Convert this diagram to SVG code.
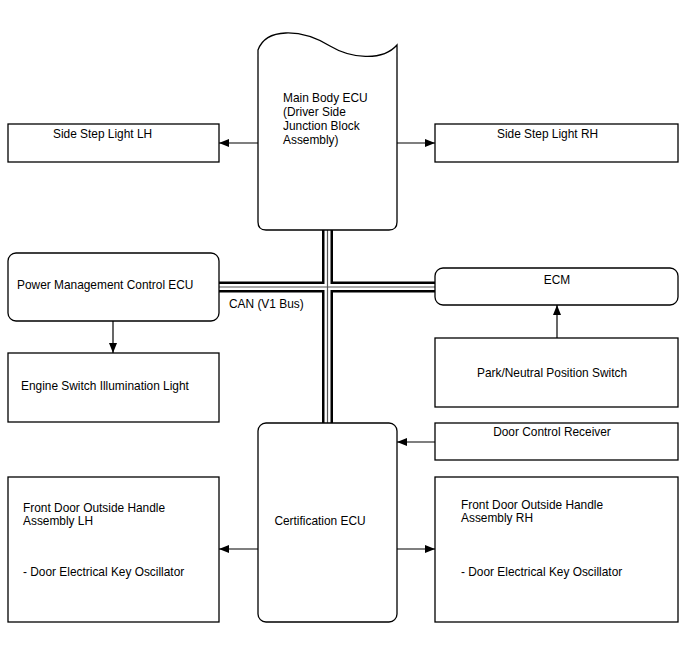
<svg xmlns="http://www.w3.org/2000/svg" width="688" height="658" viewBox="0 0 688 658">
<defs>
<style>
.box{fill:#fff;stroke:#000;stroke-width:1.3}
.t{font-family:"Liberation Sans",Arial,sans-serif;font-size:11.9px;fill:#000}
.ln{stroke:#000;stroke-width:1.2;fill:none}
.busO{stroke:#000;stroke-width:11;fill:none}
.busW{stroke:#fff;stroke-width:6;fill:none}
.busM{stroke:#555;stroke-width:1.2;fill:none}
</style>
<marker id="ah" viewBox="0 0 10 8" refX="10" refY="4" markerWidth="10" markerHeight="8" markerUnits="userSpaceOnUse" orient="auto">
<path d="M0,0 L10,4 L0,8 Z" fill="#000"/>
</marker>
</defs>
<rect width="688" height="658" fill="#fff"/>
<g id="connectors">
<path class="busO" d="M327.5,230 V423 M219,287 H435"/>
<path class="busW" d="M327.5,229 V424 M218,287 H436"/>
<path class="busM" d="M327.5,229 V424 M218,287 H436"/>
<line class="ln" x1="258" y1="143" x2="219" y2="143" marker-end="url(#ah)"/>
<line class="ln" x1="397" y1="143" x2="435" y2="143" marker-end="url(#ah)"/>
<line class="ln" x1="113" y1="321" x2="113" y2="353" marker-end="url(#ah)"/>
<line class="ln" x1="557" y1="338" x2="557" y2="305" marker-end="url(#ah)"/>
<line class="ln" x1="435" y1="442" x2="397" y2="442" marker-end="url(#ah)"/>
<line class="ln" x1="258" y1="549" x2="219" y2="549" marker-end="url(#ah)"/>
<line class="ln" x1="397" y1="549" x2="435" y2="549" marker-end="url(#ah)"/>
<text class="t" x="229" y="308">CAN (V1 Bus)</text>
</g>
<g id="main-body-ecu">
<path class="box" d="M258,50 C266,28 300,28 330,46 C350,58 382,62 397,45 L397,222 Q397,230 389,230 L266,230 Q258,230 258,222 Z"/>
<text class="t" x="283" y="102">Main Body ECU</text>
<text class="t" x="283" y="116">(Driver Side</text>
<text class="t" x="283" y="130">Junction Block</text>
<text class="t" x="283" y="144">Assembly)</text>
</g>
<g id="side-step-lh">
<rect class="box" x="8" y="124" width="211" height="38"/>
<text class="t" x="53" y="138">Side Step Light LH</text>
</g>
<g id="side-step-rh">
<rect class="box" x="435" y="124" width="243" height="38"/>
<text class="t" x="497" y="138">Side Step Light RH</text>
</g>
<g id="power-mgmt-ecu">
<rect class="box" x="8" y="253" width="211" height="68" rx="8"/>
<text class="t" x="17" y="289">Power Management Control ECU</text>
</g>
<g id="engine-switch-light">
<rect class="box" x="8" y="353" width="211" height="69"/>
<text class="t" x="21" y="390">Engine Switch Illumination Light</text>
</g>
<g id="ecm">
<rect class="box" x="435" y="268" width="243" height="37" rx="8"/>
<text class="t" x="557" y="284" text-anchor="middle">ECM</text>
</g>
<g id="park-neutral-switch">
<rect class="box" x="435" y="338" width="243" height="69"/>
<text class="t" x="552" y="377" text-anchor="middle">Park/Neutral Position Switch</text>
</g>
<g id="door-control-receiver">
<rect class="box" x="435" y="423" width="243" height="37"/>
<text class="t" x="552" y="436" text-anchor="middle">Door Control Receiver</text>
</g>
<g id="certification-ecu">
<rect class="box" x="258" y="423" width="139" height="199" rx="8"/>
<text class="t" x="320" y="525" text-anchor="middle">Certification ECU</text>
</g>
<g id="front-door-lh">
<rect class="box" x="8" y="477" width="211" height="145"/>
<text class="t" x="23" y="512">Front Door Outside Handle</text>
<text class="t" x="23" y="525">Assembly LH</text>
<text class="t" x="23" y="576">- Door Electrical Key Oscillator</text>
</g>
<g id="front-door-rh">
<rect class="box" x="435" y="477" width="243" height="145"/>
<text class="t" x="461" y="509">Front Door Outside Handle</text>
<text class="t" x="461" y="522">Assembly RH</text>
<text class="t" x="461" y="576">- Door Electrical Key Oscillator</text>
</g>
</svg>
